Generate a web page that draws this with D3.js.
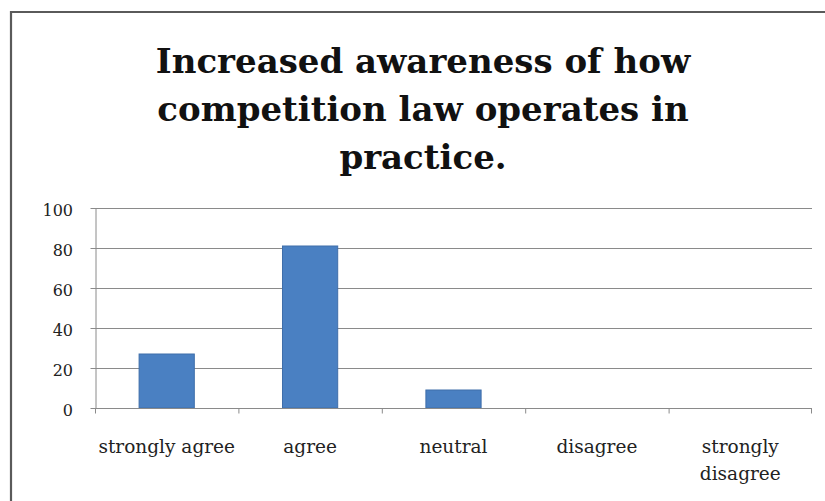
<!DOCTYPE html>
<html><head><meta charset="utf-8">
<script src="https://cdn.jsdelivr.net/npm/d3@7"></script>
<style>body{margin:0;background:#fff}svg{display:block}</style>
</head><body>
<svg id="c" width="825" height="501"></svg>
<script>
const categories = ["strongly agree", "agree", "neutral", "disagree", "strongly disagree"];
const values = [27, 81, 9, 0, 0];
const yTicks = [0, 20, 40, 60, 80, 100];
const titleLines = ["Increased awareness of how", "competition law operates in", "practice."];

const svg = d3.select("#c");
// outer chart border
svg.append("path").attr("d", "M11,501 V12 H825").attr("fill", "none").attr("stroke", "#5a5a5a").attr("stroke-width", 2.2);

const m = {l: 95, r: 812, t: 208, b: 408};
const x = d3.scaleBand().domain(categories).range([m.l, m.r]).paddingInner(0.615).paddingOuter(0.3075);
const xb = d3.scaleBand().domain(categories).range([m.l, m.r]);
const y = d3.scaleLinear().domain([0, 100]).range([m.b, m.t]);

// title
const title = svg.append("text").attr("text-anchor", "middle")
  .attr("font-family", "'DejaVu Serif',serif").attr("font-weight", "bold")
  .attr("font-size", 34).attr("fill", "#111");
titleLines.forEach((t, i) => title.append("tspan").attr("x", 423).attr("y", 73 + i * 48).text(t));

// gridlines
svg.append("g").selectAll("line").data(yTicks.filter(d => d > 0)).join("line")
  .attr("x1", m.l).attr("x2", m.r).attr("y1", d => y(d) + 0.5).attr("y2", d => y(d) + 0.5)
  .attr("stroke", "#8a8a8a").attr("stroke-width", 1);

// y axis
const yAxis = svg.append("g").attr("transform", `translate(${m.l + 0.5},0)`)
  .call(d3.axisLeft(y).tickValues(yTicks).tickSize(5).tickPadding(17.5).tickSizeOuter(0));
yAxis.select(".domain").attr("stroke", "#8a8a8a");
yAxis.selectAll(".tick line").attr("stroke", "#8a8a8a");
yAxis.selectAll("text").attr("font-family", "'DejaVu Serif',serif").attr("font-size", 16).attr("fill", "#222").attr("dy", "0.45em");

// bars
svg.append("g").selectAll("rect").data(values).join("rect")
  .attr("x", (d, i) => x(categories[i])).attr("width", x.bandwidth())
  .attr("y", d => y(d)).attr("height", d => y(0) - y(d))
  .attr("fill", "#4a80c2").attr("stroke", "#3f6eaa").attr("stroke-width", 1);

// x axis
const xAxis = svg.append("g").attr("transform", `translate(0,${m.b + 0.5})`);
xAxis.append("line").attr("x1", m.l).attr("x2", m.r).attr("stroke", "#8a8a8a");
xAxis.selectAll("line.t").data(categories.concat(["end"])).join("line").attr("class", "t")
  .attr("x1", (d, i) => i < categories.length ? xb(d) + 0.5 : m.r - 0.5)
  .attr("x2", (d, i) => i < categories.length ? xb(d) + 0.5 : m.r - 0.5)
  .attr("y1", 0).attr("y2", 5).attr("stroke", "#8a8a8a");

const lab = xAxis.selectAll("text").data(categories).join("text")
  .attr("text-anchor", "middle").attr("font-family", "'DejaVu Serif',serif")
  .attr("font-size", 18.5).attr("fill", "#222")
  .attr("transform", d => `translate(${xb(d) + xb.bandwidth() / 2},0)`);
lab.each(function(d) {
  const t = d3.select(this);
  const lines = d === "strongly disagree" ? ["strongly", "disagree"] : [d];
  lines.forEach((l, i) => t.append("tspan").attr("x", 0).attr("y", 44 + i * 27).text(l));
});
</script>
</body></html>
